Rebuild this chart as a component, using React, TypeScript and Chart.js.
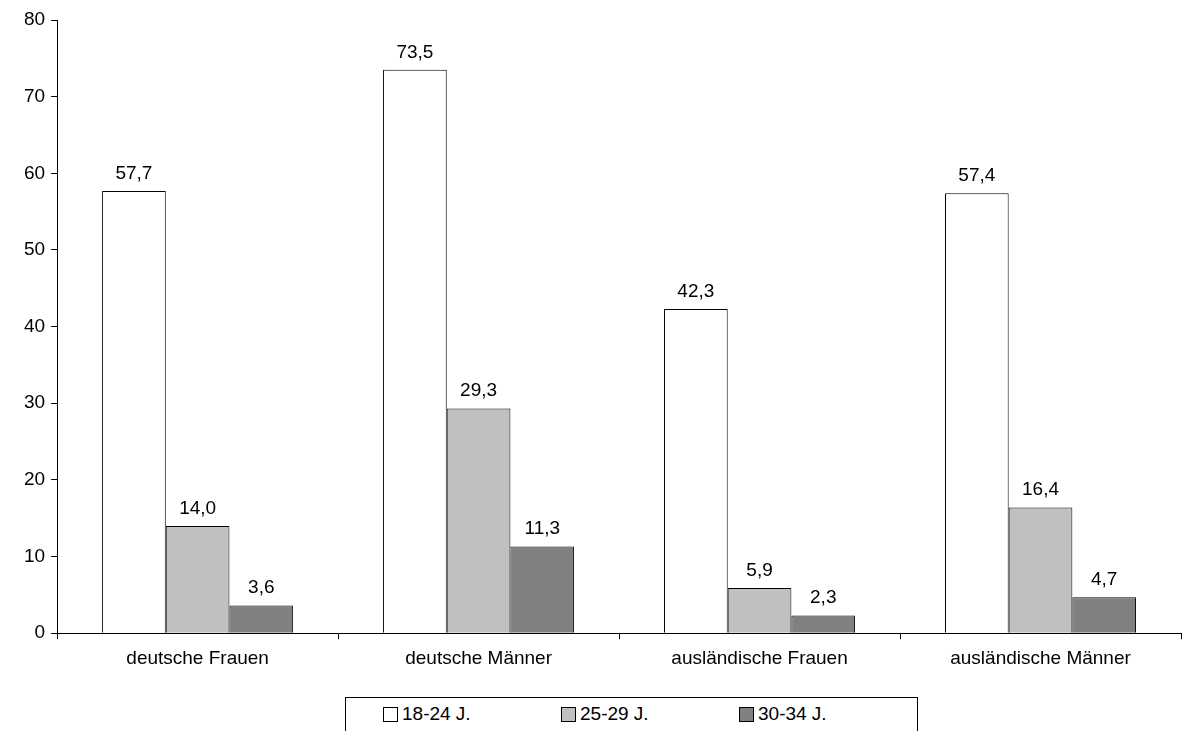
import { useEffect, useRef } from 'react';
import { Chart, registerables } from 'chart.js';

Chart.register(...registerables);

const categories = ['deutsche Frauen', 'deutsche Männer', 'ausländische Frauen', 'ausländische Männer'];
const seriesNames = ['18-24 J.', '25-29 J.', '30-34 J.'];
const values18to24 = [57.7, 73.5, 42.3, 57.4];
const values25to29 = [14.0, 29.3, 5.9, 16.4];
const values30to34 = [3.6, 11.3, 2.3, 4.7];
const colors = ['#ffffff', '#c0c0c0', '#808080'];

const font = { family: 'Liberation Sans, Arial, sans-serif', size: 19 };

const valueLabels = {
  id: 'valueLabels',
  afterDatasetsDraw(chart: Chart) {
    const ctx = chart.ctx;
    ctx.save();
    ctx.fillStyle = '#000';
    ctx.font = `19px ${font.family}`;
    ctx.textAlign = 'center';
    ctx.textBaseline = 'bottom';
    chart.data.datasets.forEach((ds, i) => {
      chart.getDatasetMeta(i).data.forEach((bar: any, j) => {
        const v = ds.data[j] as number;
        ctx.fillText(v.toFixed(1).replace('.', ','), bar.x, bar.y - 8);
      });
    });
    ctx.restore();
  },
};

export default function App() {
  const chartRef = useRef<HTMLCanvasElement>(null);

  useEffect(() => {
    if (!chartRef.current) return;
    document.body.style.margin = '0';
    const data = [values18to24, values25to29, values30to34];
    const chart = new Chart(chartRef.current, {
      type: 'bar',
      data: {
        labels: categories,
        datasets: seriesNames.map((name, i) => ({
          label: name,
          data: data[i],
          backgroundColor: colors[i],
          borderColor: '#000',
          borderWidth: 1,
          categoryPercentage: 0.68,
          barPercentage: 1,
        })),
      },
      options: {
        animation: false,
        responsive: false,
        layout: { padding: { left: 18, right: 12, top: 20, bottom: 0 } },
        plugins: { legend: { display: false }, tooltip: { enabled: false } },
        scales: {
          x: {
            grid: { offset: true, drawOnChartArea: false, color: '#000', tickLength: 6 },
            border: { color: '#000' },
            ticks: { color: '#000', font, padding: 8 },
          },
          y: {
            min: 0,
            max: 80,
            grid: { drawOnChartArea: false, color: '#000', tickLength: 6 },
            border: { color: '#000' },
            ticks: { stepSize: 10, color: '#000', font, padding: 6 },
          },
        },
      },
      plugins: [valueLabels],
    });
    return () => chart.destroy();
  }, []);

  return (
    <div style={{ position: 'relative', width: 1193, height: 731, overflow: 'hidden', background: '#fff' }}>
      <canvas ref={chartRef} width={1193} height={678} style={{ display: 'block' }} />
      <div
        style={{
          position: 'absolute',
          left: 345,
          top: 697,
          width: 573,
          height: 40,
          border: '1px solid #000',
          display: 'flex',
          alignItems: 'center',
          paddingLeft: 37,
          boxSizing: 'border-box',
          fontFamily: font.family,
          fontSize: 19,
        }}
      >
        {seriesNames.map((name, i) => (
          <div key={name} style={{ display: 'flex', alignItems: 'center', width: 191, marginTop: -6 }}>
            <span style={{ width: 13, height: 13, border: '1px solid #000', background: colors[i], marginRight: 4 }} />
            {name}
          </div>
        ))}
      </div>
    </div>
  );
}
